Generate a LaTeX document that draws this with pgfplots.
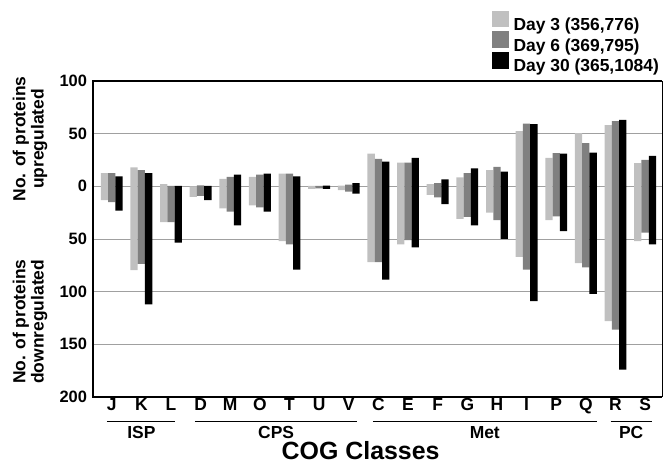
\documentclass[border=0pt]{standalone}
\usepackage{fontspec}
\setmainfont{Liberation Sans}
\usepackage{pgfplots}
\pgfplotsset{compat=1.18}
\definecolor{lightbar}{RGB}{192,192,192}
\definecolor{midbar}{RGB}{128,128,128}
\definecolor{gridgray}{RGB}{160,160,160}
\begin{document}
\begin{tikzpicture}
\begin{axis}[
  scale only axis, width=569bp, height=316bp,
  xmin=-0.631, xmax=18.57, ymin=-200, ymax=100,
  ybar, bar width=0.246,
  axis line style={draw=none},
  ytick={-200,-150,-100,-50,0,50,100},
  yticklabels={200,150,100,50,0,50,100},
  xtick={0,...,18},
  xticklabels={J,K,L,D,M,O,T,U,V,C,E,F,G,H,I,P,Q,R,S},
  major tick length=0pt,
  yticklabel style={font=\fontsize{16.5}{18}\selectfont\bfseries, xshift=-2.5bp},
  xticklabel style={font=\fontsize{17.5}{18}\selectfont\bfseries, yshift=2.5bp},
  ymajorgrids, major grid style={gridgray, line width=0.8bp},
  clip=false,
  legend cell align=left,
  legend style={at={(axis description cs:0.701,1.2225)}, anchor=north west,
    draw=none, fill=none, inner sep=0pt, outer sep=0pt,
    font=\fontsize{17.5}{20}\selectfont\bfseries,
    row sep=-1.5bp, column sep=4bp, nodes={inner sep=1bp}},
  mysq/.style={legend image code/.code={\fill[##1,draw=none] (0bp,-2.5bp) rectangle (16.7bp,14.2bp);}},
]
\addplot[fill=lightbar, draw=none, bar shift=-0.246, mysq] coordinates {
 (0,12.5) (0,-13) (1,18) (1,-79.5) (2,2) (2,-34) (3,0) (3,-10)
 (4,7) (4,-21) (5,9) (5,-18) (6,12) (6,-52) (7,0.5) (7,-2.5)
 (8,0.6) (8,-3.5) (9,31) (9,-72) (10,22.5) (10,-55) (11,2) (11,-8)
 (12,8.5) (12,-31) (13,15.5) (13,-25) (14,52.5) (14,-67) (15,27) (15,-32)
 (16,50.5) (16,-73) (17,58) (17,-128) (18,22) (18,-52)};
\addlegendentry{Day 3 (356,776)}
\addplot[fill=midbar, draw=none, bar shift=0, mysq] coordinates {
 (0,12.5) (0,-15) (1,15.5) (1,-73.5) (2,0.5) (2,-34) (3,1) (3,-9)
 (4,9) (4,-24) (5,11) (5,-20) (6,12) (6,-55) (7,0.5) (7,-2)
 (8,1.6) (8,-5) (9,26) (9,-72) (10,22.5) (10,-51) (11,3) (11,-10.5)
 (12,12.5) (12,-29) (13,18.5) (13,-32) (14,59.5) (14,-79) (15,31.5) (15,-28.5)
 (16,41) (16,-77) (17,62) (17,-136) (18,25) (18,-44)};
\addlegendentry{Day 6 (369,795)}
\addplot[fill=black, draw=none, bar shift=0.246, mysq] coordinates {
 (0,9.5) (0,-23) (1,12.5) (1,-112) (2,0.5) (2,-53.5) (3,0.5) (3,-13)
 (4,11) (4,-37) (5,12) (5,-24) (6,9.5) (6,-79) (7,0.6) (7,-2.5)
 (8,3) (8,-7) (9,23.5) (9,-88.5) (10,27) (10,-58) (11,6.5) (11,-17)
 (12,17) (12,-37) (13,14) (13,-50) (14,59) (14,-109) (15,31) (15,-42.5)
 (16,32) (16,-102) (17,63) (17,-174) (18,29) (18,-55)};
\addlegendentry{Day 30 (365,1084)}
% frame
\draw[line width=2bp, line join=miter] (rel axis cs:1,1) -- (rel axis cs:0,1) -- (rel axis cs:0,0) -- (rel axis cs:1,0);
\draw[line width=0.8bp] (rel axis cs:1,0) -- (rel axis cs:1,1);
% group lines
\draw[line width=1.2bp] ([yshift=-24.7bp]axis cs:-0.16,-200) -- ([yshift=-24.7bp]axis cs:2.14,-200);
\draw[line width=1.2bp] ([yshift=-24.7bp]axis cs:2.81,-200) -- ([yshift=-24.7bp]axis cs:8.28,-200);
\draw[line width=1.2bp] ([yshift=-24.7bp]axis cs:8.81,-200) -- ([yshift=-24.7bp]axis cs:16.37,-200);
\draw[line width=1.2bp] ([yshift=-24.7bp]axis cs:16.84,-200) -- ([yshift=-24.7bp]axis cs:18.22,-200);
\node[anchor=base, font=\fontsize{17.5}{18}\selectfont\bfseries] at ([yshift=-41bp]axis cs:1,-200) {ISP};
\node[anchor=base, font=\fontsize{17.5}{18}\selectfont\bfseries] at ([yshift=-41bp]axis cs:5.55,-200) {CPS};
\node[anchor=base, font=\fontsize{17.5}{18}\selectfont\bfseries] at ([yshift=-41bp]axis cs:12.59,-200) {Met};
\node[anchor=base, font=\fontsize{17.5}{18}\selectfont\bfseries] at ([yshift=-41bp]axis cs:17.53,-200) {PC};
\node[anchor=base, font=\fontsize{25}{28}\selectfont\bfseries] at ([yshift=-62.5bp]axis cs:8.4,-200) {COG Classes};
% y labels
\node[rotate=90, align=center, font=\fontsize{17.5}{18.5}\selectfont\bfseries] at ([xshift=-63bp]axis cs:-0.631,45) {No. of proteins\\upregulated};
\node[rotate=90, align=center, font=\fontsize{17.5}{18.5}\selectfont\bfseries] at ([xshift=-63bp]axis cs:-0.631,-128.5) {No. of proteins\\downregulated};
\end{axis}
\pgfresetboundingbox
\useasboundingbox (-93bp,-69bp) rectangle (571bp,397bp);
\end{tikzpicture}
\end{document}
